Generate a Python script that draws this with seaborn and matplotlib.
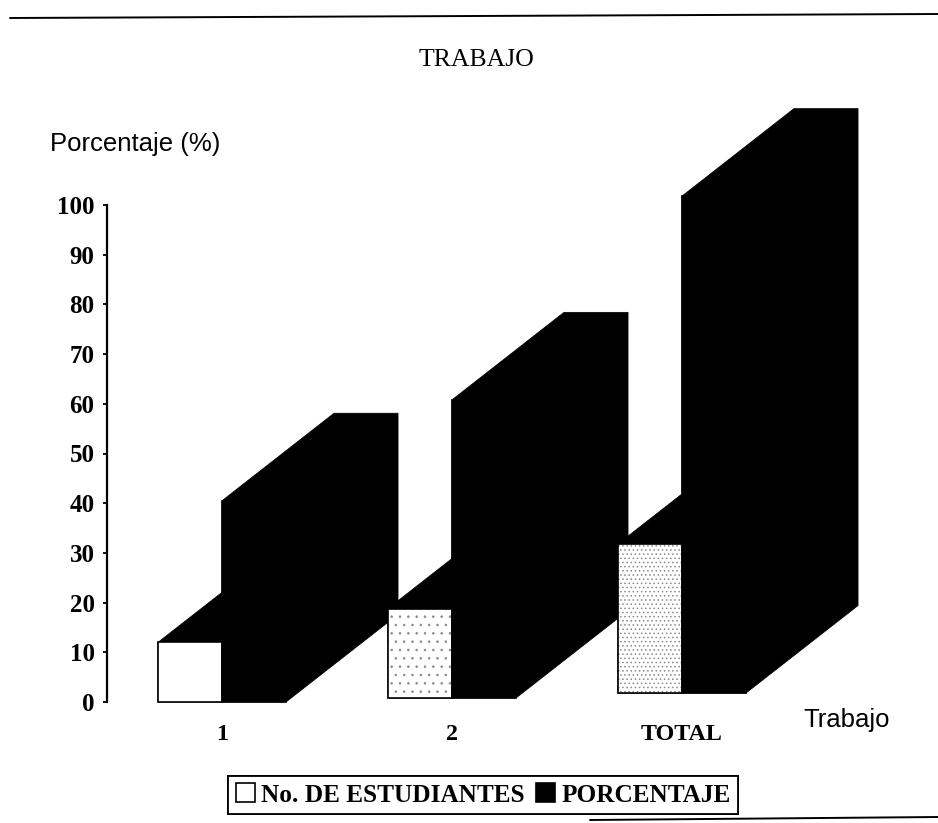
import matplotlib
matplotlib.use("Agg")
import matplotlib.pyplot as plt
from matplotlib.lines import Line2D
from matplotlib.patches import Polygon, Rectangle
import pandas as pd
import seaborn as sns

categories = ["1", "2", "TOTAL"]
estudiantes = [12, 18, 30]
porcentaje = [40.5, 60, 100]
series_names = ["No. DE ESTUDIANTES", "PORCENTAJE"]
y_ticks = list(range(0, 101, 10))

W, H = 938, 823
SERIF = "Liberation Serif"
SANS = "Liberation Sans"

sns.set_theme(style="white")
plt.rcParams["hatch.linewidth"] = 0.6

df = pd.DataFrame({
    "cat": categories * 2,
    "serie": [series_names[0]] * 3 + [series_names[1]] * 3,
    "valor": estudiantes + porcentaje,
})

fig = plt.figure(figsize=(W / 100, H / 100), dpi=100, facecolor="white")
left, right, top, bottom = 107, 875, 205, 702
ax = fig.add_axes([left / W, 1 - bottom / H, (right - left) / W, (bottom - top) / H])

sns.barplot(data=df, x="cat", y="valor", hue="serie", order=categories,
            hue_order=series_names, palette=["white", "black"], width=0.557,
            saturation=1, edgecolor="black", linewidth=1.2, ax=ax, legend=False)

ax.set_xlim((left - 222) / 230, (right - 222) / 230)
ax.set_ylim(0, 100)

# scanned page is slightly rotated: bars' base creeps upward to the right
drift = [0.0, 0.8, 1.8]
px_x = 230.0
px_y = (bottom - top) / 100
dx, dy = 112 / px_x, 87.5 / px_y
hatches = ["", "..", "...."]
bars = list(ax.patches)[:6]
for i, bar in enumerate(bars):
    idx = i % 3
    bar.set_y(drift[idx])
    bar.set_clip_on(False)
    bar.set_zorder(3)
    x0, x1 = bar.get_x(), bar.get_x() + bar.get_width()
    y0, y1 = bar.get_y(), bar.get_y() + bar.get_height()
    ax.add_patch(Polygon([(x0, y0), (x1, y0), (x1 + dx, y0 + dy), (x1 + dx, y1 + dy),
                          (x0 + dx, y1 + dy), (x0, y1)], closed=True, facecolor="black",
                         edgecolor="black", lw=0.5, clip_on=False, zorder=2 if i < 3 else 1))
    if i < 3:
        bar.set_hatch(hatches[idx])
        bar.set_edgecolor("#8a8a8a")
        bar.set_linewidth(0)
        ax.add_patch(Rectangle((x0, y0), x1 - x0, y1 - y0, fill=False, edgecolor="black",
                               lw=1.2, clip_on=False, zorder=4))

sns.despine(ax=ax, bottom=True, right=True, top=True)
ax.spines["left"].set_linewidth(1.6)
ax.spines["left"].set_color("black")
ax.set_yticks(y_ticks)
ax.tick_params(axis="y", left=True, length=3, width=1.3, color="black", pad=6)
ax.tick_params(axis="x", bottom=False, pad=10)
for lab in ax.get_yticklabels() + ax.get_xticklabels():
    lab.set_fontfamily(SERIF)
    lab.set_fontweight("bold")
    lab.set_fontsize(18)
    lab.set_color("black")
for lab in ax.get_xticklabels():
    lab.set_fontsize(17.3)
ax.set_xlabel("")
ax.set_ylabel("")


def px(x, y):
    return x / W, 1 - y / H


fig.text(*px(476, 60), "TRABAJO", family=SERIF, fontsize=18.5, ha="center", va="center", color="black")
fig.text(*px(50, 144), "Porcentaje (%)", family=SANS, fontsize=18.5, ha="left", va="center", color="black")
fig.text(*px(803, 720), "Trabajo", family=SANS, fontsize=18.5, ha="left", va="center", color="black")

handle_proxy = [plt.Rectangle((0, 0), 1, 1, facecolor="white", edgecolor="black", lw=1.2),
                plt.Rectangle((0, 0), 1, 1, facecolor="black", edgecolor="black", lw=1.2)]
leg = fig.legend(handle_proxy, series_names, ncol=2, loc="center", bbox_to_anchor=px(483, 795),
                 frameon=True, fancybox=False, edgecolor="black", framealpha=1,
                 labelcolor="black",
                 prop={"family": SERIF, "weight": "bold", "size": 18.2},
                 handlelength=0.75, handleheight=0.75, handletextpad=0.25, columnspacing=0.45,
                 borderpad=0.3, borderaxespad=0,
                 shadow={"facecolor": "black", "edgecolor": "black", "alpha": 1, "ox": 0.004, "oy": -0.004})
leg.get_frame().set_linewidth(1.3)

fig.add_artist(Line2D([10 / W, 1], [1 - 18 / H, 1 - 14 / H], color="black", lw=1.4))
fig.add_artist(Line2D([590 / W, 1], [1 - 820 / H, 1 - 817 / H], color="black", lw=1.4))

fig.savefig("out.png", dpi=100, facecolor="white")
